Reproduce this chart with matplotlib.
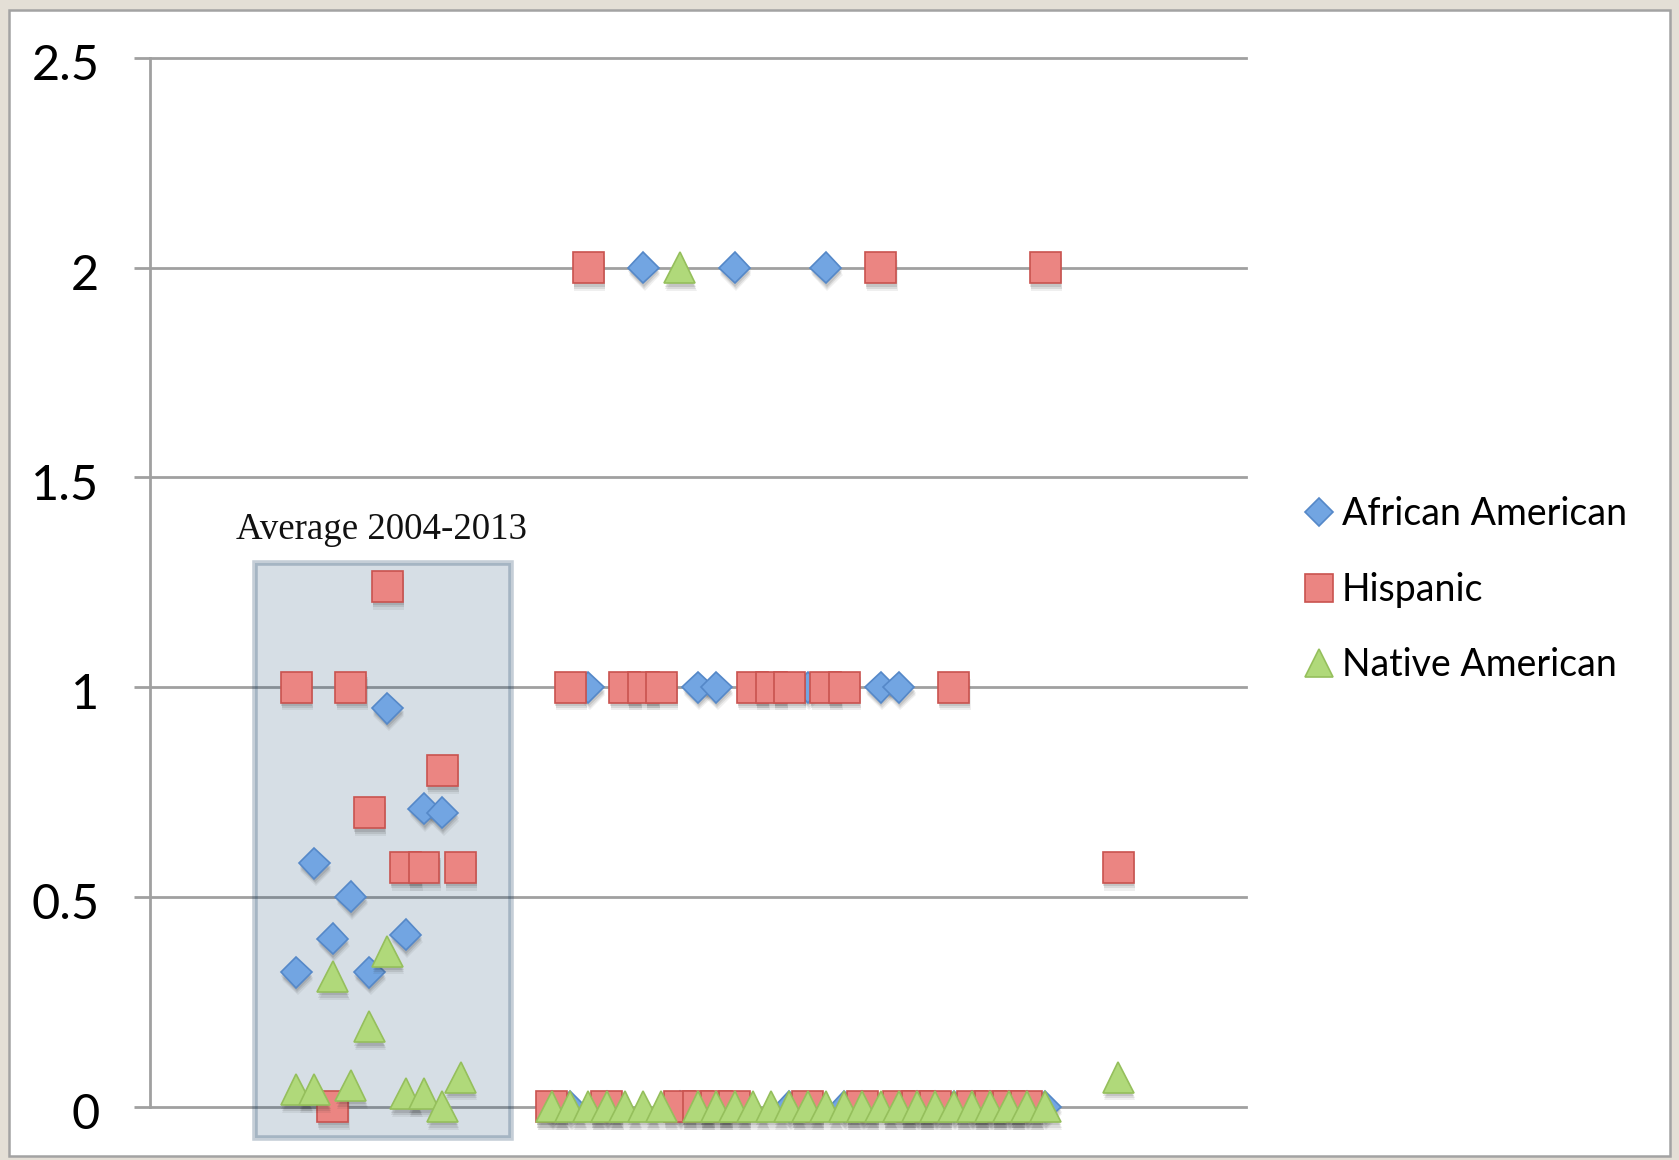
import numpy as np
import matplotlib
matplotlib.use('Agg')
import matplotlib.pyplot as plt
import matplotlib.patheffects as pe
import matplotlib.transforms as mtransforms
from matplotlib.patches import Rectangle
from matplotlib.lines import Line2D

nan = np.nan

# DATA ######################################
# position of each school / year along the x axis
x = [8, 9, 10, 11, 12, 13, 14, 15, 16, 17,
     22, 23, 24, 25, 26, 27, 28, 29, 30, 31, 32, 33, 34, 35,
     36, 37, 38, 39, 40, 41, 42, 43, 44, 45, 46, 47, 48, 49,
     53]

african_american = [0.32, 0.58, 0.40, 0.50, 0.32, 0.95, 0.41, 0.71, 0.70, nan,
                    0, 0, 1, 0, nan, 2, nan, 0, 1, 1, 2, nan, nan, 0,
                    1, 2, 0, 0, 1, 1, 0, 0, 0, 0, 0, 0, 0, 0,
                    nan]

hispanic = [1.0, nan, 0.0, 1.0, 0.70, 1.24, 0.57, 0.57, 0.80, 0.57,
            0, 1, 2, 0, 1, 1, 1, 0, 0, 0, 0, 1, 1, 1,
            0, 1, 1, 0, 2, 0, 0, 0, 1, 0, 0, 0, 0, 2,
            0.57]

native_american = [0.04, 0.04, 0.31, 0.05, 0.19, 0.37, 0.03, 0.03, 0.0, 0.07,
                   0, 0, 0, 0, 0, 0, 0, 2, 0, 0, 0, 0, 0, 0,
                   0, 0, 0, 0, 0, 0, 0, 0, 0, 0, 0, 0, 0, 0,
                   0.07]

labels = ['African American', 'Hispanic', 'Native American']
yticks = [0, 0.5, 1, 1.5, 2, 2.5]
ytick_labels = ['0', '0.5', '1', '1.5', '2', '2.5']

# STYLE #####################################
W, H = 1679, 1160
GRID = '#a0a0a0'
styles = [
    dict(marker='D', ms=15.8, mfc='#72a5e2', mec='#5588c8'),
    dict(marker='s', ms=22.3, mfc='#eb8582', mec='#c9534f'),
    dict(marker='^', ms=22.3, mfc='#b0d97a', mec='#95bf5c'),
]

# soft drop shadow under each marker
shadow = [pe.SimplePatchShadow(offset=(0.5, -2.5), shadow_rgbFace='0.15', alpha=0.12),
          pe.SimplePatchShadow(offset=(0.8, -4.0), shadow_rgbFace='0.15', alpha=0.10),
          pe.SimplePatchShadow(offset=(1.0, -5.5), shadow_rgbFace='0.15', alpha=0.07),
          pe.Normal()]

fig = plt.figure(figsize=(W / 100, H / 100), dpi=100, facecolor='#e4dfd6')

# white page with thin grey border (behind the axes)
fig.patches.append(Rectangle((9 / W, 4 / H), (1670 - 9) / W, (1150 - 4) / H,
                             transform=fig.transFigure, facecolor='white',
                             edgecolor='#a3a3a3', linewidth=1.8, zorder=-1))

ax = fig.add_axes([150 / W, (H - 1106.5) / H, 1096 / W, 1048.5 / H])
ax.patch.set_visible(False)
ax.set_xlim(0, 60)
ax.set_ylim(0, 2.5)

for side in ['top', 'right', 'bottom']:
    ax.spines[side].set_visible(False)
ax.spines['left'].set_color(GRID)
ax.spines['left'].set_linewidth(2)

ax.set_xticks([])
ax.set_yticks(yticks)
ax.set_yticklabels(ytick_labels, family='Lato')
ax.tick_params(axis='y', length=11.5, width=2, color=GRID, pad=25, labelsize=35)
# labels sit a touch below their gridline
drop = mtransforms.ScaledTranslation(0, -3 / 72, fig.dpi_scale_trans)
for lab in ax.get_yticklabels():
    lab.set_transform(lab.get_transform() + drop)
ax.yaxis.grid(True, color=GRID, linewidth=2)
ax.set_axisbelow(True)
for line in ax.get_ygridlines():
    line.set_clip_on(False)

# shaded block for the 2004-2013 averages
ax.add_patch(Rectangle((5.775, -0.0758), 19.77 - 5.775, 1.2967 + 0.0758,
                       facecolor=(0.05, 0.24, 0.40, 0.17),
                       edgecolor=(0.05, 0.20, 0.35, 0.24),
                       linewidth=4, zorder=1.5, clip_on=False))
ax.text(12.66, 1.353, 'Average 2004-2013', ha='center', va='baseline',
        family='Liberation Serif', fontsize=26.6, color='#111111')

# series: blue first, then red, then green on top
for i, (vals, st) in enumerate(zip([african_american, hispanic, native_american], styles)):
    ax.plot(x, vals, linestyle='none', marker=st['marker'], markersize=st['ms'],
            markerfacecolor=st['mfc'], markeredgecolor=st['mec'], markeredgewidth=1.2,
            clip_on=False, zorder=3 + i, path_effects=shadow)

handles = [Line2D([], [], linestyle='none', marker=st['marker'], markersize=st['ms'] * 0.88,
                  markerfacecolor=st['mfc'], markeredgecolor=st['mec'], markeredgewidth=1.2)
           for st in styles]
fig.legend(handles, labels, loc='upper left', bbox_to_anchor=(1300 / W, 1 - 496 / H),
           frameon=False, prop={'family': 'Lato', 'size': 27}, borderpad=0,
           borderaxespad=0, handlelength=1.0, handletextpad=0.12, labelspacing=1.06)

fig.savefig('out.png', dpi=100, facecolor=fig.get_facecolor())
